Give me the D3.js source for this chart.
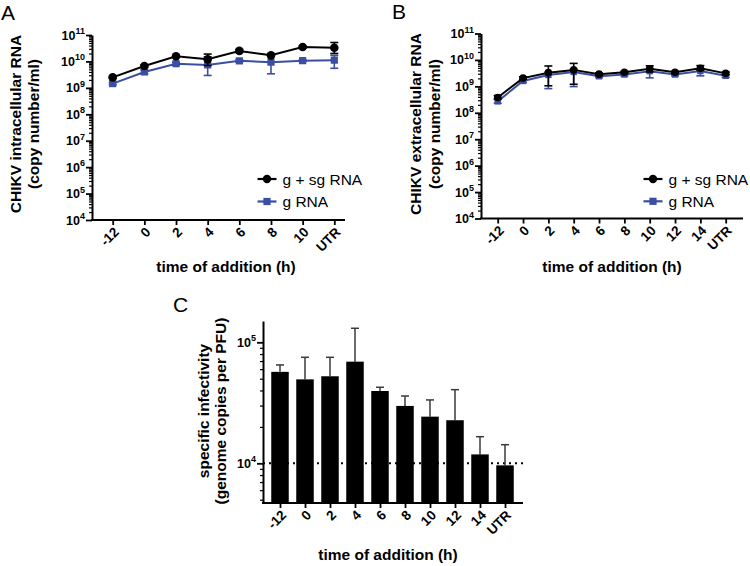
<!DOCTYPE html>
<html><head><meta charset="utf-8">
<script src="https://cdn.jsdelivr.net/npm/d3@7"></script>
<style>
html,body{margin:0;padding:0;background:#fff;}
svg{display:block;font-family:"Liberation Sans",Arial,sans-serif;}
</style></head>
<body>
<svg id="chart" width="750" height="566"></svg>
<script>
// ---------------- DATA ----------------
const catsA = ["-12","0","2","4","6","8","10","UTR"];
const gsgA    = [2.5e9, 6.7e9, 1.58e10, 1.2e10, 2.5e10, 1.7e10, 3.5e10, 3.3e10];
const gsgA_lo = [2.3e9, 6.0e9, 1.45e10, 7.0e9, 2.2e10, 1.55e10, 3.2e10, 2.0e10];
const gsgA_hi = [2.7e9, 7.5e9, 1.7e10, 1.9e10, 2.85e10, 1.85e10, 3.8e10, 5.2e10];
const gA      = [1.45e9, 4.0e9, 8.2e9, 7.4e9, 1.05e10, 9.4e9, 1.07e10, 1.12e10];
const gA_lo   = [1.3e9, 3.4e9, 7.2e9, 2.95e9, 9.5e9, 3.4e9, 9.8e9, 5.5e9];
const gA_hi   = [1.6e9, 4.8e9, 9.2e9, 1.5e10, 1.15e10, 1.6e10, 1.15e10, 1.7e10];

const catsB = ["-12","0","2","4","6","8","10","12","14","UTR"];
const gsgB    = [3.8e8, 2.05e9, 3.3e9, 4.2e9, 2.9e9, 3.4e9, 4.6e9, 3.4e9, 4.8e9, 3.1e9];
const gsgB_lo = [3.3e8, 1.85e9, 1.05e9, 1.2e9, 2.6e9, 3.1e9, 3.5e9, 3.1e9, 4.0e9, 2.75e9];
const gsgB_hi = [4.5e8, 2.3e9, 5.9e9, 7.4e9, 3.2e9, 3.7e9, 6.0e9, 3.7e9, 6.1e9, 3.5e9];
const gB      = [2.7e8, 1.6e9, 2.7e9, 3.5e9, 2.4e9, 2.8e9, 3.75e9, 2.8e9, 3.8e9, 2.5e9];
const gB_lo   = [2.3e8, 1.4e9, 8.2e8, 9.8e8, 2.15e9, 2.5e9, 2.1e9, 2.5e9, 2.5e9, 2.2e9];
const gB_hi   = [3.2e8, 1.8e9, 3.5e9, 4.5e9, 2.65e9, 3.1e9, 4.6e9, 3.1e9, 4.5e9, 2.8e9];

const catsC = ["-12","0","2","4","6","8","10","12","14","UTR"];
const specInf    = [57000, 49400, 52400, 69200, 39600, 29800, 24300, 22700, 11850, 9620];
const specInf_hi = [65000, 75200, 75200, 130600, 42500, 36000, 33400, 40600, 16600, 14250];

const decadesAB = [4,5,6,7,8,9,10,11];
const decadesC = [4,5];

const seriesNames = ["g + sg RNA","g RNA"];
const BLUE = "#3a4ea2";

// ---------------- HELPERS ----------------
const svg = d3.select("#chart");

function minorTicks(lo, hi){
  const out=[];
  for(let e=Math.floor(Math.log10(lo)); e<=Math.ceil(Math.log10(hi)); e++){
    for(let m=2;m<=9;m++){ const v=m*Math.pow(10,e); if(v>=lo && v<=hi) out.push(v); }
  }
  return out;
}

function yLogAxis(x0, y, exps, fontBase){
  const g = svg.append("g").attr("transform",`translate(${x0},0)`);
  const dom = y.domain();
  g.append("g").call(d3.axisLeft(y).tickValues(minorTicks(dom[0],dom[1])).tickSize(3).tickSizeOuter(0).tickFormat(()=>""))
    .call(s=>{s.select(".domain").remove(); s.selectAll("line").attr("stroke","#000").attr("stroke-width",1.2);});
  const ga = g.append("g").call(d3.axisLeft(y).tickValues(exps.map(e=>Math.pow(10,e))).tickSize(6).tickSizeOuter(0).tickFormat(()=>""));
  ga.select(".domain").attr("stroke","#000").attr("stroke-width",2);
  ga.selectAll(".tick line").attr("stroke","#000").attr("stroke-width",1.8);
  exps.forEach(e=>{
    const t = g.append("text").attr("x",-7).attr("y",y(Math.pow(10,e))+4.5)
      .attr("text-anchor","end").attr("font-weight","bold").attr("font-size",fontBase).attr("fill","#000");
    t.append("tspan").text("10");
    t.append("tspan").attr("dy",-5.5).attr("font-size",fontBase*0.72).text(e);
  });
}

function xCatAxis(x, y0, xStart, xEnd){
  const g = svg.append("g").attr("transform",`translate(0,${y0})`);
  const ax = g.append("g").call(d3.axisBottom(x).tickSize(5).tickSizeOuter(0).tickFormat(()=>""));
  ax.select(".domain").remove();
  ax.selectAll(".tick line").attr("stroke","#000").attr("stroke-width",1.8);
  g.append("line").attr("x1",xStart).attr("x2",xEnd).attr("y1",0).attr("y2",0).attr("stroke","#000").attr("stroke-width",2);
  x.domain().forEach(c=>{
    g.append("text").attr("transform",`translate(${x(c)+7},13) rotate(-45)`)
      .attr("text-anchor","end").attr("font-weight","bold").attr("font-size",13.5).text(c);
  });
}

function yTitle(lines, xs, cy){
  lines.forEach((l,i)=>{
    svg.append("text").attr("transform",`translate(${xs[i]},${cy}) rotate(-90)`)
      .attr("text-anchor","middle").attr("font-weight","bold").attr("font-size",15.5).text(l);
  });
}
function xTitle(text, cx, y){
  svg.append("text").attr("x",cx).attr("y",y).attr("text-anchor","middle")
    .attr("font-weight","bold").attr("font-size",15.5).text(text);
}

function lineSeries(x, y, cats, vals, lo, hi, color, marker, msize){
  const g = svg.append("g");
  cats.forEach((c,i)=>{
    const cx = x(c);
    g.append("line").attr("x1",cx).attr("x2",cx).attr("y1",y(lo[i])).attr("y2",y(hi[i])).attr("stroke",color).attr("stroke-width",1.6);
    [lo[i],hi[i]].forEach(v=>g.append("line").attr("x1",cx-4).attr("x2",cx+4).attr("y1",y(v)).attr("y2",y(v)).attr("stroke",color).attr("stroke-width",1.6));
  });
  g.append("path").datum(vals).attr("fill","none").attr("stroke",color).attr("stroke-width",2)
    .attr("d", d3.line().x((d,i)=>x(cats[i])).y(d=>y(d)));
  cats.forEach((c,i)=>{
    if(marker==="circle") g.append("circle").attr("cx",x(c)).attr("cy",y(vals[i])).attr("r",msize).attr("fill",color);
    else g.append("rect").attr("x",x(c)-msize).attr("y",y(vals[i])-msize).attr("width",2*msize).attr("height",2*msize).attr("fill",color);
  });
}

function legend(x0, y0, dy){
  const items = [{n:seriesNames[0],c:"#000",m:"circle"},{n:seriesNames[1],c:BLUE,m:"square"}];
  items.forEach((it,i)=>{
    const yy = y0 + i*dy;
    svg.append("line").attr("x1",x0).attr("x2",x0+19).attr("y1",yy).attr("y2",yy).attr("stroke",it.c).attr("stroke-width",2.2);
    if(it.m==="circle") svg.append("circle").attr("cx",x0+9.5).attr("cy",yy).attr("r",4.2).attr("fill",it.c);
    else svg.append("rect").attr("x",x0+9.5-3.6).attr("y",yy-3.6).attr("width",7.2).attr("height",7.2).attr("fill",it.c);
    svg.append("text").attr("x",x0+25).attr("y",yy+5.5).attr("font-size",15.5).text(it.n);
  });
}

function panelLetter(t,x,y){
  svg.append("text").attr("x",x).attr("y",y).attr("font-size",21).text(t);
}

// ---------------- PANEL A ----------------
const yA = d3.scaleLog().domain([1e4,1e11]).range([220,35]);
const xA = d3.scalePoint().domain(catsA).range([112.7,334.3]);
yLogAxis(92, yA, decadesAB, 12.5);
xCatAxis(xA, 220, 91, 345);
lineSeries(xA, yA, catsA, gA, gA_lo, gA_hi, BLUE, "square", 3.6);
lineSeries(xA, yA, catsA, gsgA, gsgA_lo, gsgA_hi, "#000", "circle", 4.3);
yTitle(["CHIKV intracellular RNA","(copy number/ml)"], [20.5,39], 124);
xTitle("time of addition (h)", 226, 272);
legend(257.5, 179, 22.5);
panelLetter("A", 1, 20);

// ---------------- PANEL B ----------------
const yB = d3.scaleLog().domain([1e4,1e11]).range([218.5,33.5]);
const xB = d3.scalePoint().domain(catsB).range([497.7,725.7]);
yLogAxis(481, yB, decadesAB, 12.5);
xCatAxis(xB, 218.5, 480, 743);
lineSeries(xB, yB, catsB, gB, gB_lo, gB_hi, BLUE, "square", 3.2);
lineSeries(xB, yB, catsB, gsgB, gsgB_lo, gsgB_hi, "#000", "circle", 3.8);
yTitle(["CHIKV extracellular RNA","(copy number/ml)"], [421,439.5], 124);
xTitle("time of addition (h)", 612, 272);
legend(643.5, 179, 22.3);
panelLetter("B", 392, 19);

// ---------------- PANEL C ----------------
const yC = d3.scaleLog().domain([4700,150000]).range([503,321]);
const xC = d3.scalePoint().domain(catsC).range([280,505]);
const barW = 17.5;
// dotted reference line at 10^4
svg.append("line").attr("x1",263).attr("x2",523).attr("y1",yC(1e4)).attr("y2",yC(1e4))
  .attr("stroke","#000").attr("stroke-width",2).attr("stroke-dasharray","2,4");
const gc = svg.append("g");
catsC.forEach((c,i)=>{
  const cx = xC(c);
  gc.append("line").attr("x1",cx).attr("x2",cx).attr("y1",yC(specInf[i])).attr("y2",yC(specInf_hi[i])).attr("stroke","#3a3a3a").attr("stroke-width",1.5);
  gc.append("line").attr("x1",cx-4).attr("x2",cx+4).attr("y1",yC(specInf_hi[i])).attr("y2",yC(specInf_hi[i])).attr("stroke","#3a3a3a").attr("stroke-width",1.5);
  gc.append("rect").attr("x",cx-barW/2).attr("y",yC(specInf[i])).attr("width",barW).attr("height",503-yC(specInf[i])).attr("fill","#000");
});
// y axis C
(function(){
  const g = svg.append("g").attr("transform","translate(263,0)");
  g.append("g").call(d3.axisLeft(yC).tickValues(minorTicks(4700,150000)).tickSize(3).tickSizeOuter(0).tickFormat(()=>""))
    .call(s=>{s.select(".domain").remove(); s.selectAll("line").attr("stroke","#000").attr("stroke-width",1.2);});
  const ga = g.append("g").call(d3.axisLeft(yC).tickValues(decadesC.map(e=>Math.pow(10,e))).tickSize(6).tickSizeOuter(0).tickFormat(()=>""));
  ga.select(".domain").attr("stroke","#000").attr("stroke-width",2);
  ga.selectAll(".tick line").attr("stroke","#000").attr("stroke-width",1.8);
  decadesC.forEach(e=>{
    const t = g.append("text").attr("x",-7).attr("y",yC(Math.pow(10,e))+4.5)
      .attr("text-anchor","end").attr("font-weight","bold").attr("font-size",12.5);
    t.append("tspan").text("10");
    t.append("tspan").attr("dy",-5.5).attr("font-size",9).text(e);
  });
})();
xCatAxis(xC, 503, 262, 523);
yTitle(["specific infectivity","(genome copies per PFU)"], [209,226], 411);
xTitle("time of addition (h)", 388, 560);
panelLetter("C", 173, 312);
</script>
</body></html>
